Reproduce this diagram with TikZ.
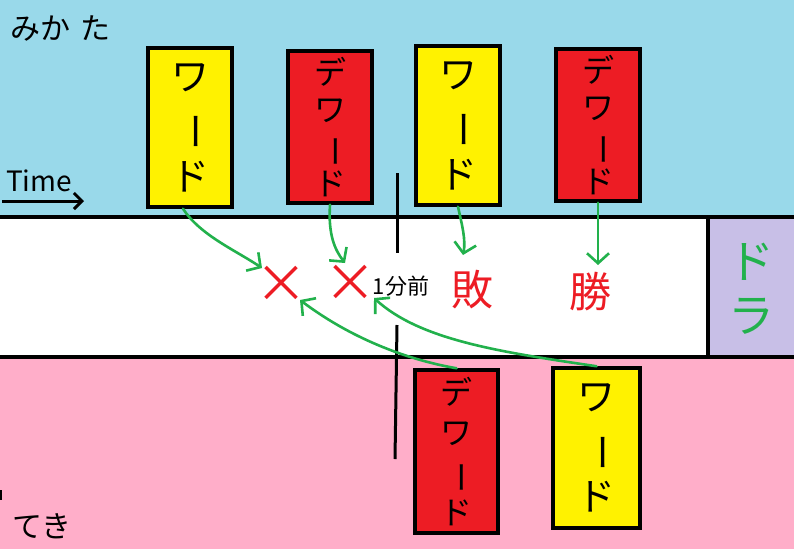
\documentclass[tikz,border=0pt]{standalone}
\usepackage{fontspec}
\setmainfont{Noto Sans CJK JP}
\usetikzlibrary{arrows.meta}
\definecolor{skyb}{HTML}{99D9EA}
\definecolor{pinkb}{HTML}{FFAEC9}
\definecolor{lilac}{HTML}{C8BFE7}
\definecolor{pred}{HTML}{ED1C24}
\definecolor{pyel}{HTML}{FFF200}
\definecolor{pgreen}{HTML}{22B14C}
\newcommand{\vbar}{\rotatebox[origin=c]{-90}{ー}}
\begin{document}
\begin{tikzpicture}[x=1pt,y=-1pt,
  card/.style={draw=black, line width=3.5pt, minimum width=84pt, inner sep=0pt, align=center},
  yelcard/.style={card, fill=pyel},
  redcard/.style={card, fill=pred},
  garrow/.style={draw=pgreen, line width=2.6pt, line cap=round, -{Straight Barb[length=10pt,width=22pt,line width=2.6pt]}},
  thickline/.style={draw=black, line width=4pt},
  redmark/.style={text=pred, font=\fontsize{52}{52}\selectfont, inner sep=0pt},
  redword/.style={text=pred, font=\fontsize{42}{42}\selectfont, inner sep=0pt},
]
\useasboundingbox (0,0) rectangle (794,549);
% bands
\fill[skyb] (0,0) rectangle (794,217);
\fill[white] (0,217) rectangle (794,357);
\fill[pinkb] (0,357) rectangle (794,549);
\fill[lilac] (708,217) rectangle (794,357);
\draw[thickline] (0,217) -- (794,217);
\draw[thickline] (0,357) -- (794,357);
\draw[thickline] (708,217) -- (708,357);

% time marker line
\coordinate (t1) at (397,173);
\coordinate (t2) at (397,253);
\coordinate (t3) at (397,325);
\coordinate (t4) at (395,459);
\draw[black, line width=3pt] (t1) -- (t2);
\draw[black, line width=3pt] (t3) -- (t4);
\coordinate (m1) at (1,490);
\coordinate (m2) at (1,500);
\draw[black, line width=2pt] (m1) -- (m2);

% labels
\node[anchor=west, inner sep=0pt, font=\fontsize{30}{30}\selectfont] (mikata) at (10,28) {みか\hspace{10pt}た};
\node[anchor=west, inner sep=0pt, font=\fontsize{30}{30}\selectfont] (teki) at (12,526) {てき};
\node[anchor=west, inner sep=0pt, font=\fontsize{28}{28}\selectfont] (time) at (6,181) {Time};
\coordinate (ta) at (2,201);
\coordinate (tb) at (84,201);
\draw[black, line width=3pt, -{Straight Barb[length=8pt,width=16pt,line width=3pt]}] (ta) -- (tb);

% cards (ally)
\node[yelcard, minimum height=159pt, font=\fontsize{38}{50}\selectfont] (y1) at (190,127.5) {ワ\\\vbar\\ド};
\node[redcard, minimum height=152pt, font=\fontsize{32}{37}\selectfont] (r1) at (330,127) {デ\\ワ\\\vbar\\ド};
\node[yelcard, minimum height=159pt, font=\fontsize{38}{50}\selectfont] (y2) at (458,125.5) {ワ\\\vbar\\ド};
\node[redcard, minimum height=152pt, font=\fontsize{32}{37}\selectfont] (r2) at (598,125) {デ\\ワ\\\vbar\\ド};
% cards (enemy)
\node[redcard, minimum width=83pt, minimum height=163pt, font=\fontsize{32}{40}\selectfont] (rb) at (456.5,451.5) {デ\\ワ\\\vbar\\ド};
\node[yelcard, minimum width=87pt, minimum height=160pt, font=\fontsize{38}{50}\selectfont] (yb) at (596.5,448) {ワ\\\vbar\\ド};

% outcomes
\node[redmark] (x1) at (281,284) {×};
\node[redmark] (x2) at (350,283) {×};
\node[inner sep=0pt, font=\fontsize{22}{22}\selectfont] (ago) at (401,286) {1分前};
\node[redword] (lose) at (472,290) {敗};
\node[redword] (win) at (590,292) {勝};
\node[text=pgreen, inner sep=0pt, align=center, font=\fontsize{46}{54}\selectfont] (dora) at (751,289) {ド\\ラ};

% arrows
\draw[garrow] ([xshift=-7pt]y1.south) .. controls (200,235) and (235,250) .. (262,268);
\draw[garrow] (r1.south) .. controls (328,235) and (335,250) .. (345,263);
\draw[garrow] (y2.south) .. controls (462,225) and (466,240) .. (463,255);
\draw[garrow] (r2.south) -- (598,265);
\draw[garrow] (rb.north) .. controls (420,362) and (360,345) .. (300,300);
\draw[garrow] (yb.north) .. controls (500,352) and (420,340) .. (374,298);
\end{tikzpicture}
\end{document}
